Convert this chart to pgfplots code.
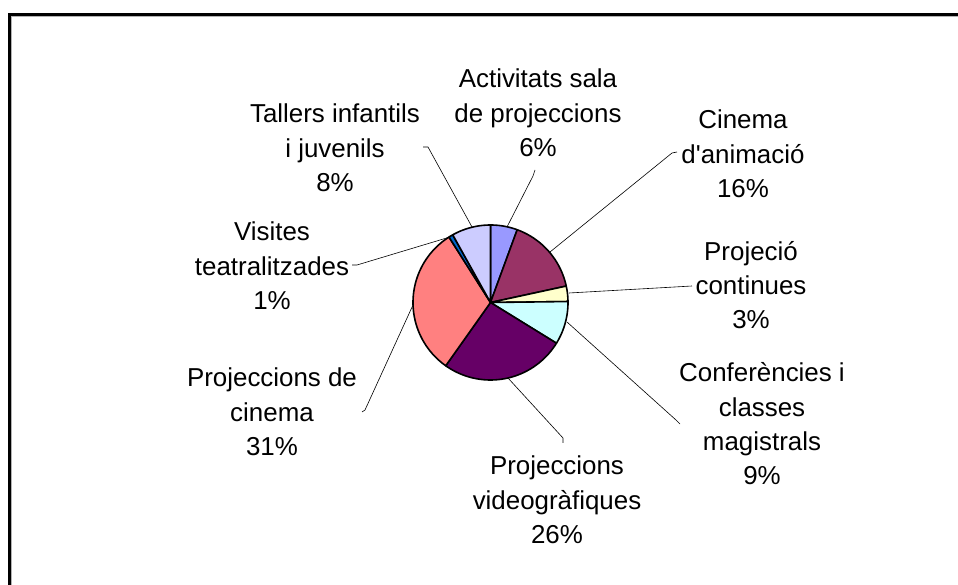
\documentclass[border=0pt]{standalone}
\usepackage{fontspec}
\setmainfont{Liberation Sans}
\usepackage{pgfplots}
\pgfplotsset{compat=1.18}

\definecolor{slA}{HTML}{9999FF}
\definecolor{slB}{HTML}{993366}
\definecolor{slC}{HTML}{FFFFCC}
\definecolor{slD}{HTML}{CCFFFF}
\definecolor{slE}{HTML}{660066}
\definecolor{slF}{HTML}{FF8080}
\definecolor{slG}{HTML}{0066CC}
\definecolor{slH}{HTML}{CCCCFF}
\tikzset{lbl/.style={align=center, font=\fontsize{26}{34.5}\selectfont}}

\begin{document}
\begin{tikzpicture}
\begin{axis}[
    x=1bp, y=1bp,
    xmin=0, xmax=958, ymin=0, ymax=585,
    hide axis, clip=false,
  ]
% shares in per cent, clockwise from twelve o'clock
\xdef\angA{90}
\foreach \v/\c in {5.6/slA, 16.0/slB, 3.2/slC, 9.0/slD, 26.0/slE, 31.2/slF, 0.9/slG, 8.1/slH}{
  \pgfmathsetmacro\angB{\angA-3.6*\v}
  \edef\temp{\noexpand\addplot[fill=\c, draw=black, line width=1.6bp,
      line join=round, domain=\angB:\angA, samples=60, variable=\noexpand\t]
    ({490.5+77.5*cos(\noexpand\t)},{282.5+77.5*sin(\noexpand\t)})
    -- (axis cs:490.5,282.5) -- cycle;}
  \temp
  \xdef\angA{\angB}
}

% frame (only top and left edges are inside the picture)
\draw[gray!60, line width=1bp] (axis cs:11.5,0) -- (axis cs:11.5,568.5) -- (axis cs:958,568.5);
\draw[line width=2.2bp] (axis cs:9.5,0) -- (axis cs:9.5,570.5) -- (axis cs:958,570.5);

% leader lines
\draw[line width=0.6bp] (axis cs:535,415) -- (axis cs:533,409) -- (axis cs:507,358);
\draw[line width=0.6bp] (axis cs:677,433) -- (axis cs:672,432) -- (axis cs:550,333);
\draw[line width=0.6bp] (axis cs:692,299) -- (axis cs:569,292);
\draw[line width=0.6bp] (axis cs:680,161) -- (axis cs:676,165) -- (axis cs:567,263);
\draw[line width=0.6bp] (axis cs:563,142) -- (axis cs:563,147) -- (axis cs:508,207);
\draw[line width=0.6bp] (axis cs:362,173) -- (axis cs:365,175) -- (axis cs:413,280);
\draw[line width=0.6bp] (axis cs:352,320) -- (axis cs:357,320) -- (axis cs:450,348);
\draw[line width=0.6bp] (axis cs:423,438) -- (axis cs:428,438) -- (axis cs:472,358);

% labels
\node[lbl] at (axis cs:538,472) {Activitats sala\\de projeccions\\6\%};
\node[lbl] at (axis cs:743,431) {Cinema\\d\textquotesingle animació\\16\%};
\node[lbl] at (axis cs:751,300) {Projeció\\continues\\3\%};
\node[lbl] at (axis cs:762,161) {Conferències i\\classes\\magistrals\\9\%};
\node[lbl] at (axis cs:557,85) {Projeccions\\videogràfiques\\26\%};
\node[lbl] at (axis cs:272,173) {Projeccions de\\cinema\\31\%};
\node[lbl] at (axis cs:272,319) {Visites\\teatralitzades\\1\%};
\node[lbl] at (axis cs:335,437) {Tallers infantils\\i juvenils\\8\%};
\end{axis}
\pgfresetboundingbox
\path (0,0) rectangle (958bp,585bp);
\end{tikzpicture}
\end{document}
